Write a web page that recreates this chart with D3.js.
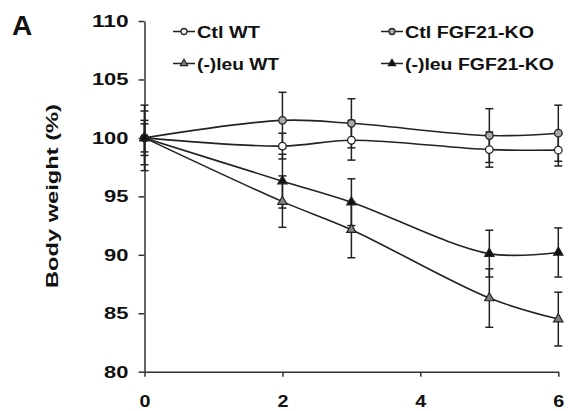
<!DOCTYPE html>
<html>
<head>
<meta charset="utf-8">
<script src="https://cdn.jsdelivr.net/npm/d3@7"></script>
<style>
  body { margin: 0; background: #fff; }
  text { font-family: Arial, "Liberation Sans", sans-serif; font-weight: bold; fill: #111; }
</style>
</head>
<body>
<script>
const width = 568;
const height = 411;

// data (days, body weight % and error)
const days = [0, 2, 3, 5, 6];
const ctlWT = [100, 99.3, 99.8, 99.0, 98.95];
const ctlWTErr = [1.2, 1.1, 1.7, 1.5, 1.35];
const ctlKO = [100, 101.5, 101.25, 100.2, 100.4];
const ctlKOErr = [1.5, 2.4, 2.1, 2.3, 2.4];
const leuWT = [100, 94.55, 92.15, 86.3, 84.5];
const leuWTErr = [2.8, 2.2, 2.4, 2.5, 2.3];
const leuKO = [100, 96.3, 94.5, 90.1, 90.2];
const leuKOErr = [2.3, 2.3, 2.0, 2.0, 2.1];
const xTicks = [0, 2, 4, 6];
const yTicks = [80, 85, 90, 95, 100, 105, 110];

const series = [
  { name: "Ctl WT", values: ctlWT, err: ctlWTErr, shape: "circle", fill: "#fff" },
  { name: "Ctl FGF21-KO", values: ctlKO, err: ctlKOErr, shape: "circle", fill: "#a8a8a8" },
  { name: "(-)leu WT", values: leuWT, err: leuWTErr, shape: "triangle", fill: "#808080" },
  { name: "(-)leu FGF21-KO", values: leuKO, err: leuKOErr, shape: "triangle", fill: "#111" }
];

const svg = d3.select("body").append("svg")
  .attr("width", width).attr("height", height);

const x = d3.scaleLinear().domain([0, 6]).range([144.5, 558.3]);
const y = d3.scaleLinear().domain([80, 110]).range([371.7, 21]);

const ink = "#222";

// axes
const gx = svg.append("g")
  .attr("transform", `translate(0,${y(80)})`)
  .call(d3.axisBottom(x).tickValues(xTicks).tickFormat(d3.format("d"))
    .tickSize(5).tickPadding(18).tickSizeOuter(0));
const gy = svg.append("g")
  .attr("transform", `translate(${x(0)},0)`)
  .call(d3.axisLeft(y).tickValues(yTicks).tickFormat(d3.format("d"))
    .tickSize(6).tickPadding(10).tickSizeOuter(0));

[gx, gy].forEach(g => {
  g.select(".domain").attr("stroke", "#333").attr("stroke-width", 1.5);
  g.selectAll(".tick line").attr("stroke", "#333").attr("stroke-width", 1.5);
  g.selectAll(".tick text")
    .attr("font-family", "Arial, 'Liberation Sans', sans-serif")
    .attr("font-weight", "bold")
    .attr("font-size", 17)
    .attr("fill", "#111");
});
gy.selectAll(".tick text").attr("textLength", d => String(d).length * 12.2).attr("lengthAdjust", "spacingAndGlyphs");
gx.selectAll(".tick text").attr("textLength", 11).attr("lengthAdjust", "spacingAndGlyphs");

// y label
svg.append("text")
  .attr("transform", `translate(58,196) rotate(-90)`)
  .attr("text-anchor", "middle")
  .attr("font-size", 17)
  .attr("textLength", 184)
  .attr("lengthAdjust", "spacingAndGlyphs")
  .text("Body weight (%)");

// panel letter
svg.append("text")
  .attr("x", 12).attr("y", 35)
  .attr("font-size", 28)
  .text("A");

const tri = d3.symbol().type(d3.symbolTriangle);

const drawMarker = (sel, s, r) => {
  if (s.shape === "circle") {
    sel.append("circle").attr("r", r)
      .attr("fill", s.fill).attr("stroke", ink).attr("stroke-width", 1.3);
  } else {
    sel.append("path").attr("d", tri.size(r * r * 2.6)())
      .attr("fill", s.fill).attr("stroke", ink).attr("stroke-width", 1.2);
  }
};

// error bars
const eb = svg.append("g");
series.forEach(s => {
  days.forEach((d, i) => {
    const cx = x(d), lo = y(s.values[i] - s.err[i]), hi = y(s.values[i] + s.err[i]);
    eb.append("line").attr("x1", cx).attr("x2", cx).attr("y1", lo).attr("y2", hi)
      .attr("stroke", ink).attr("stroke-width", 1.5);
    [lo, hi].forEach(yy => eb.append("line")
      .attr("x1", cx - 4).attr("x2", cx + 4).attr("y1", yy).attr("y2", yy)
      .attr("stroke", ink).attr("stroke-width", 1.5));
  });
});

// lines
const line = d3.line()
  .x((d, i) => x(days[i]))
  .y(d => y(d))
  .curve(d3.curveCatmullRom);

svg.append("g").selectAll("path")
  .data(series)
  .join("path")
  .attr("d", s => line(s.values))
  .attr("fill", "none")
  .attr("stroke", ink)
  .attr("stroke-width", 1.6);

// markers
series.forEach(s => {
  days.forEach((d, i) => {
    const g = svg.append("g").attr("transform", `translate(${x(d)},${y(s.values[i])})`);
    drawMarker(g, s, 3.8);
  });
});

// legend
const legendPos = [
  { x: 173, y: 31.5, len: 63 },
  { x: 381, y: 31.5, len: 129 },
  { x: 173, y: 63.5, len: 82 },
  { x: 381, y: 63.5, len: 149 }
];
series.forEach((s, i) => {
  const p = legendPos[i];
  const g = svg.append("g").attr("transform", `translate(${p.x},${p.y})`);
  g.append("line").attr("x1", 0).attr("x2", 22).attr("stroke", ink).attr("stroke-width", 1.5);
  const m = g.append("g").attr("transform", "translate(11,0)");
  drawMarker(m, s, 3);
  g.append("text")
    .attr("x", 24).attr("y", 6)
    .attr("font-size", 16)
    .attr("textLength", p.len)
    .attr("lengthAdjust", "spacingAndGlyphs")
    .text(s.name);
});
</script>
</body>
</html>
